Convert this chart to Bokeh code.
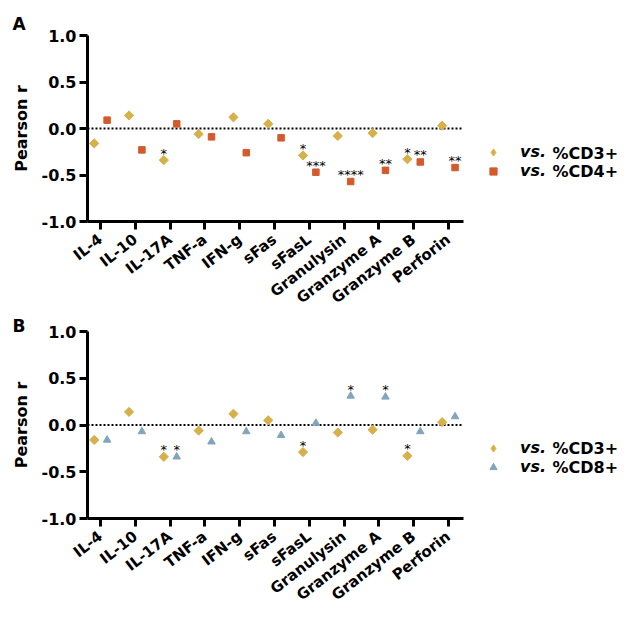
from math import pi, radians
from bokeh.plotting import figure
from bokeh.models import ColumnDataSource, FixedTicker, Legend, LegendItem, Label, Range1d
from bokeh.layouts import column
from bokeh.embed import file_html
from bokeh.resources import INLINE
from bokeh.core.properties import value

categories = ["IL-4", "IL-10", "IL-17A", "TNF-a", "IFN-g", "sFas", "sFasL",
              "Granulysin", "Granzyme A", "Granzyme B", "Perforin"]
r_cd3 = [-0.16, 0.14, -0.34, -0.06, 0.12, 0.05, -0.29, -0.08, -0.05, -0.33, 0.03]
r_cd4 = [0.09, -0.23, 0.05, -0.09, -0.26, -0.10, -0.47, -0.57, -0.45, -0.36, -0.42]
r_cd8 = [-0.16, -0.07, -0.34, -0.18, -0.07, -0.11, 0.02, 0.31, 0.30, -0.07, 0.09]
sig_cd3 = ["", "", "*", "", "", "", "*", "", "", "*", ""]
sig_cd4 = ["", "", "", "", "", "", "***", "****", "**", "**", "**"]
sig_cd8 = ["", "", "*", "", "", "", "", "*", "*", "", ""]
y_ticks = [-1.0, -0.5, 0.0, 0.5, 1.0]
y_tick_labels = ["-1.0", "-0.5", "0.0", "0.5", "1.0"]

YELLOW = "#D8B04A"
ORANGE = "#D45A2C"
BLUE = "#80A5BD"
FONT = "DejaVu Sans"

X_LO, X_HI = -0.374, 10.43      # extent of the x axis
X_END = 15.29                   # frame continues to the right for the legend


def make_panel(letter, vals2, sig2, color2, marker2, size2, label2, height, top, bottom,
               title_standoff, legend_bottom, row_ys):
    p = figure(width=632, height=height, x_range=Range1d(X_LO, X_END), y_range=Range1d(-1, 1),
               output_backend="svg", toolbar_location=None,
               min_border_left=87, min_border_right=0, min_border_top=top, min_border_bottom=bottom)
    p.title.text = letter
    p.title.align = "left"
    p.title.offset = -75
    p.title.standoff = title_standoff
    p.title.text_font = FONT
    p.title.text_font_style = "bold"
    p.title.text_font_size = "17px"
    p.title.text_color = "black"
    p.xgrid.grid_line_color = None
    p.ygrid.grid_line_color = None
    p.outline_line_color = None
    for ax in (p.xaxis[0], p.yaxis[0]):
        ax.axis_line_width = 3
        ax.major_tick_line_width = 3
        ax.major_tick_out = 8
        ax.major_tick_in = 0
        ax.minor_tick_line_color = None
        ax.major_label_text_font = FONT
        ax.major_label_text_font_style = "bold"
        ax.major_label_text_color = "black"
    idx = list(range(len(categories)))
    p.xaxis.bounds = (X_LO, X_HI)
    p.xaxis.ticker = FixedTicker(ticks=idx)
    p.xaxis.major_label_overrides = {i: c for i, c in zip(idx, categories)}
    p.xaxis.major_label_orientation = radians(38)
    p.xaxis.major_label_standoff = 8
    p.xaxis.major_label_text_font_size = "15px"
    p.yaxis.ticker = FixedTicker(ticks=y_ticks)
    p.yaxis.major_label_overrides = {t: s for t, s in zip(y_ticks, y_tick_labels)}
    p.yaxis.major_label_standoff = 3
    p.yaxis.major_label_text_font_size = "16px"
    p.yaxis.axis_label = "Pearson r"
    p.yaxis.axis_label_text_font = FONT
    p.yaxis.axis_label_text_font_style = "bold"
    p.yaxis.axis_label_text_font_size = "16px"
    p.yaxis.axis_label_text_color = "black"
    p.yaxis.axis_label_standoff = 8

    # dotted zero line across the axis extent
    p.line(x=[X_LO, X_HI], y=[0, 0], line_color="black", line_width=2, line_dash="2 2")

    src1 = ColumnDataSource(dict(x=[i - 0.18 for i in idx], y=r_cd3, s=sig_cd3))
    src2 = ColumnDataSource(dict(x=[i + 0.19 for i in idx], y=vals2, s=sig2))
    p.scatter("x", "y", source=src1, marker="square", angle=pi / 4, size=6.5,
              fill_color=YELLOW, line_color=YELLOW)
    # same series, diamond marker, only used for the legend swatch
    r1_key = p.scatter("x", "y", source=src1, marker="diamond", size=9,
                       fill_color=YELLOW, line_color=YELLOW, visible=False)
    r2 = p.scatter("x", "y", source=src2, marker=marker2, size=size2,
                   fill_color=color2, line_color=color2)
    for src in (src1, src2):
        p.text("x", "y", text="s", source=src, text_align="center", text_baseline="alphabetic",
               y_offset=-7, text_font=value(FONT), text_font_size="13px", text_color="black")

    legend = Legend(items=[LegendItem(label="vs.", renderers=[r1_key]),
                           LegendItem(label="vs.", renderers=[r2])],
                    location=(397, legend_bottom), glyph_width=18, glyph_height=18, label_height=18,
                    spacing=0, padding=0, margin=0, label_standoff=18,
                    border_line_color=None, background_fill_alpha=0, inactive_fill_alpha=0,
                    label_text_font=FONT, label_text_font_style="bold italic",
                    label_text_font_size="16px", label_text_color="black")
    p.add_layout(legend)
    for yy, txt in zip(row_ys, ("%CD3+", label2)):
        p.add_layout(Label(x=465, y=yy, x_units="screen", y_units="screen", text=txt,
                           text_font=FONT, text_font_style="bold", text_font_size="16px",
                           text_baseline="middle", text_color="black"))
    return p


pA = make_panel("A", r_cd4, sig_cd4, ORANGE, "square", 6.5, "%CD4+", 317, 35, 94,
                3, 41, (68, 50))
pB = make_panel("B", r_cd8, sig_cd8, BLUE, "triangle", 7.5, "%CD8+", 315, 14, 114,
                -8, 42, (70, 51))

layout = column(pA, pB)
open("out.html", "w").write(file_html(layout, INLINE))
